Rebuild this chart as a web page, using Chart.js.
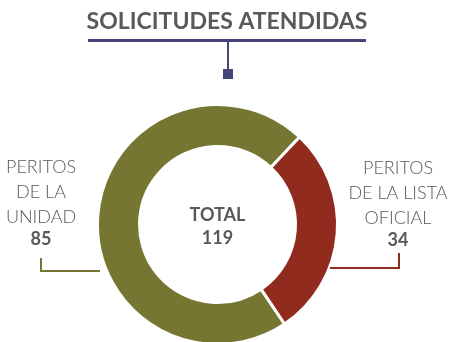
<!DOCTYPE html>
<html lang="es">
<head>
<meta charset="UTF-8">
<title>Solicitudes atendidas</title>
<script src="https://cdn.jsdelivr.net/npm/chart.js"></script>
<style>
    html, body { margin: 0; padding: 0; background: #fff; overflow: hidden; }
    #wrap { position: relative; width: 449px; height: 346px; }
</style>
</head>
<body>
<div id="wrap"><canvas id="donut" width="449" height="346"></canvas></div>
<script>
// --- data ---
const title = 'SOLICITUDES ATENDIDAS';
const categories = [['PERITOS', 'DE LA', 'UNIDAD'], ['PERITOS', 'DE LA LISTA', 'OFICIAL']];
const values = [85, 34];
const colors = ['#757631', '#912b1e'];
const totalLabel = 'TOTAL';

const FONT = 'Lato, "Open Sans", sans-serif';
const GRAY = '#595959';
const NAVY = '#45447b';

// title, center total and side labels with leader lines
const annotations = {
    id: 'annotations',
    afterDraw(chart) {
        const ctx = chart.ctx;
        ctx.save();
        ctx.textAlign = 'center';
        ctx.textBaseline = 'middle';

        // title + bar + stem + square
        ctx.fillStyle = GRAY;
        ctx.font = 'bold 23px ' + FONT;
        ctx.fillText(title, 227, 22);
        ctx.fillStyle = NAVY;
        ctx.fillRect(88, 39, 278, 3);
        ctx.fillRect(227, 41, 2, 29);
        ctx.fillRect(223, 69, 10, 10);

        // total in the hole
        const arc = chart.getDatasetMeta(0).data[0];
        const total = values.reduce((a, b) => a + b, 0);
        ctx.fillStyle = GRAY;
        ctx.font = 'bold 18px ' + FONT;
        ctx.fillText(totalLabel, arc.x, 215);
        ctx.fillText(String(total), arc.x, 238);

        // side labels
        const spots = [
            { x: 41, y: 167, line: [[41, 258], [41, 271], [100, 271]] },
            { x: 398, y: 168, line: [[399, 253], [399, 268], [330, 268]] }
        ];
        spots.forEach((s, i) => {
            ctx.fillStyle = GRAY;
            ctx.font = '300 18px ' + FONT;
            categories[i].forEach((t, k) => ctx.fillText(t, s.x, s.y + k * 25));
            ctx.font = 'bold 18px ' + FONT;
            ctx.fillText(String(values[i]), s.x, s.y + categories[i].length * 25 - 3);

            ctx.strokeStyle = colors[i];
            ctx.lineWidth = 2;
            ctx.beginPath();
            s.line.forEach((p, k) => k ? ctx.lineTo(p[0], p[1]) : ctx.moveTo(p[0], p[1]));
            ctx.stroke();
        });
        ctx.restore();
    }
};

new Chart(document.getElementById('donut'), {
    type: 'doughnut',
    data: {
        labels: categories.map(c => c.join(' ')),
        datasets: [{
            data: values,
            backgroundColor: colors,
            borderColor: '#ffffff',
            borderWidth: 3
        }]
    },
    options: {
        responsive: false,
        animation: false,
        cutout: '65%',
        rotation: 146,
        layout: { padding: { left: 96, right: 110, top: 103, bottom: 0 } },
        plugins: {
            legend: { display: false },
            tooltip: { enabled: false }
        }
    },
    plugins: [annotations]
});
</script>
</body>
</html>
